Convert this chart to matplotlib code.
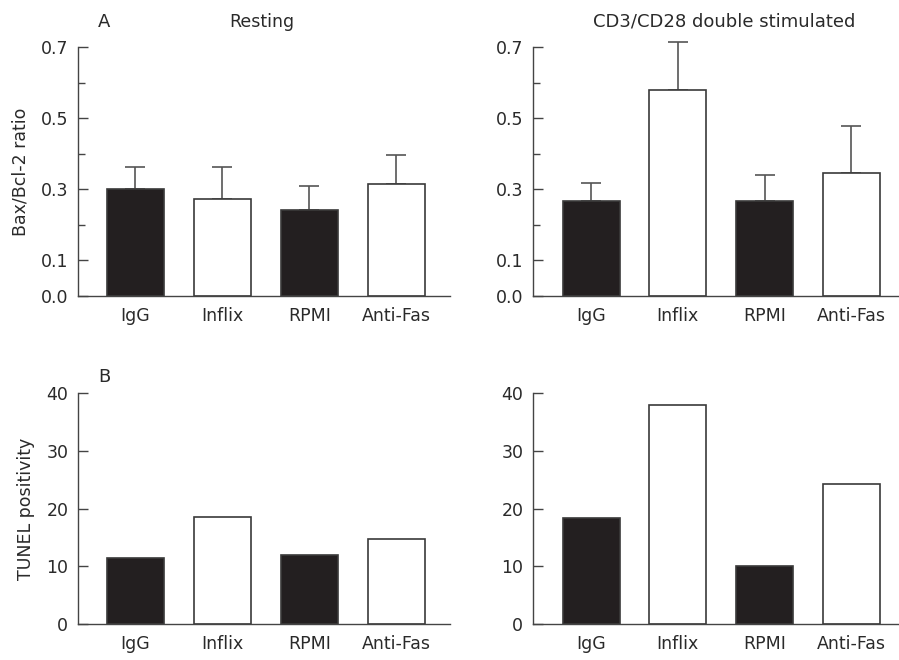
import matplotlib.pyplot as plt
import numpy as np

# data
groups = ['IgG', 'Inflix', 'RPMI', 'Anti-Fas']
fills = ['#231f20', 'white', '#231f20', 'white']

ratio_resting = [0.300, 0.274, 0.243, 0.314]
ratio_resting_err = [0.063, 0.089, 0.067, 0.081]
ratio_stim = [0.267, 0.580, 0.267, 0.345]
ratio_stim_err = [0.050, 0.133, 0.074, 0.134]

tunel_resting = [11.4, 18.5, 12.0, 14.7]
tunel_stim = [18.3, 37.9, 10.1, 24.2]

W, H = 899, 660
plt.rcParams['font.family'] = ['DejaVu Sans']
plt.rcParams['ytick.direction'] = 'in'
fig = plt.figure(figsize=(W / 100, H / 100), dpi=100)
ink = '#2a2a2a'


def px_axes(x0, x1, ytop, ybot):
    return fig.add_axes([x0 / W, 1 - ybot / H, (x1 - x0) / W, (ybot - ytop) / H])


def style(ax, xlim):
    for s in ['top', 'right']:
        ax.spines[s].set_visible(False)
    for s in ['left', 'bottom']:
        ax.spines[s].set_color('#444444')
        ax.spines[s].set_linewidth(1.0)
    ax.set_xlim(*xlim)
    ax.set_xticks(np.arange(len(groups)))
    ax.set_xticklabels(groups, fontsize=12.5, color=ink)
    ax.tick_params(axis='x', length=0, pad=8)
    ax.tick_params(axis='y', which='major', direction='in', length=7, width=1.0, color='#444444',
                   labelsize=12.5, labelcolor=ink, pad=7)
    ax.tick_params(axis='y', which='minor', direction='in', length=5, width=1.0, color='#444444')


def bars(ax, vals, err=None):
    x = np.arange(len(groups))
    ax.bar(x, vals, width=0.655, color=fills, edgecolor='#3a3a3a', linewidth=1.2, zorder=2)
    if err is not None:
        eb = ax.errorbar(x, vals, yerr=[np.zeros(len(vals)), err], fmt='none',
                         ecolor='#555555', elinewidth=1.2, capsize=7, capthick=1.2, zorder=1)
        for child in eb.get_children():
            child.set_clip_on(False)


# top row: Bax/Bcl-2 ratio
ax1 = px_axes(78, 450, 47, 296)
ax2 = px_axes(533, 899, 47, 296)
for ax, vals, err, xlim in [(ax1, ratio_resting, ratio_resting_err, (-0.66, 3.62)),
                            (ax2, ratio_stim, ratio_stim_err, (-0.67, 3.55))]:
    bars(ax, vals, err)
    ax.set_ylim(0, 0.7)
    ax.set_yticks([0.0, 0.1, 0.3, 0.5, 0.7])
    ax.set_yticklabels(['0.0', '0.1', '0.3', '0.5', '0.7'])
    ax.set_yticks([0.2, 0.4, 0.6], minor=True)
    style(ax, xlim)

# bottom row: TUNEL
ax3 = px_axes(78, 450, 393, 624)
ax4 = px_axes(533, 899, 393, 624)
for ax, vals, xlim in [(ax3, tunel_resting, (-0.66, 3.62)),
                       (ax4, tunel_stim, (-0.67, 3.55))]:
    bars(ax, vals)
    ax.set_ylim(0, 40)
    ax.set_yticks([0, 10, 20, 30, 40])
    style(ax, xlim)

ax1.set_ylabel('Bax/Bcl-2 ratio', fontsize=12.5, color=ink, labelpad=8)
ax3.set_ylabel('TUNEL positivity', fontsize=12.5, color=ink, labelpad=8)

fig.text(104 / W, 1 - 22 / H, 'A', fontsize=13, color=ink, ha='center', va='center')
fig.text(262 / W, 1 - 22 / H, 'Resting', fontsize=12.5, color=ink, ha='center', va='center')
fig.text(724 / W, 1 - 22 / H, 'CD3/CD28 double stimulated', fontsize=13, color=ink,
         ha='center', va='center')
fig.text(104 / W, 1 - 377 / H, 'B', fontsize=13, color=ink, ha='center', va='center')

fig.savefig('out.png', dpi=100)
